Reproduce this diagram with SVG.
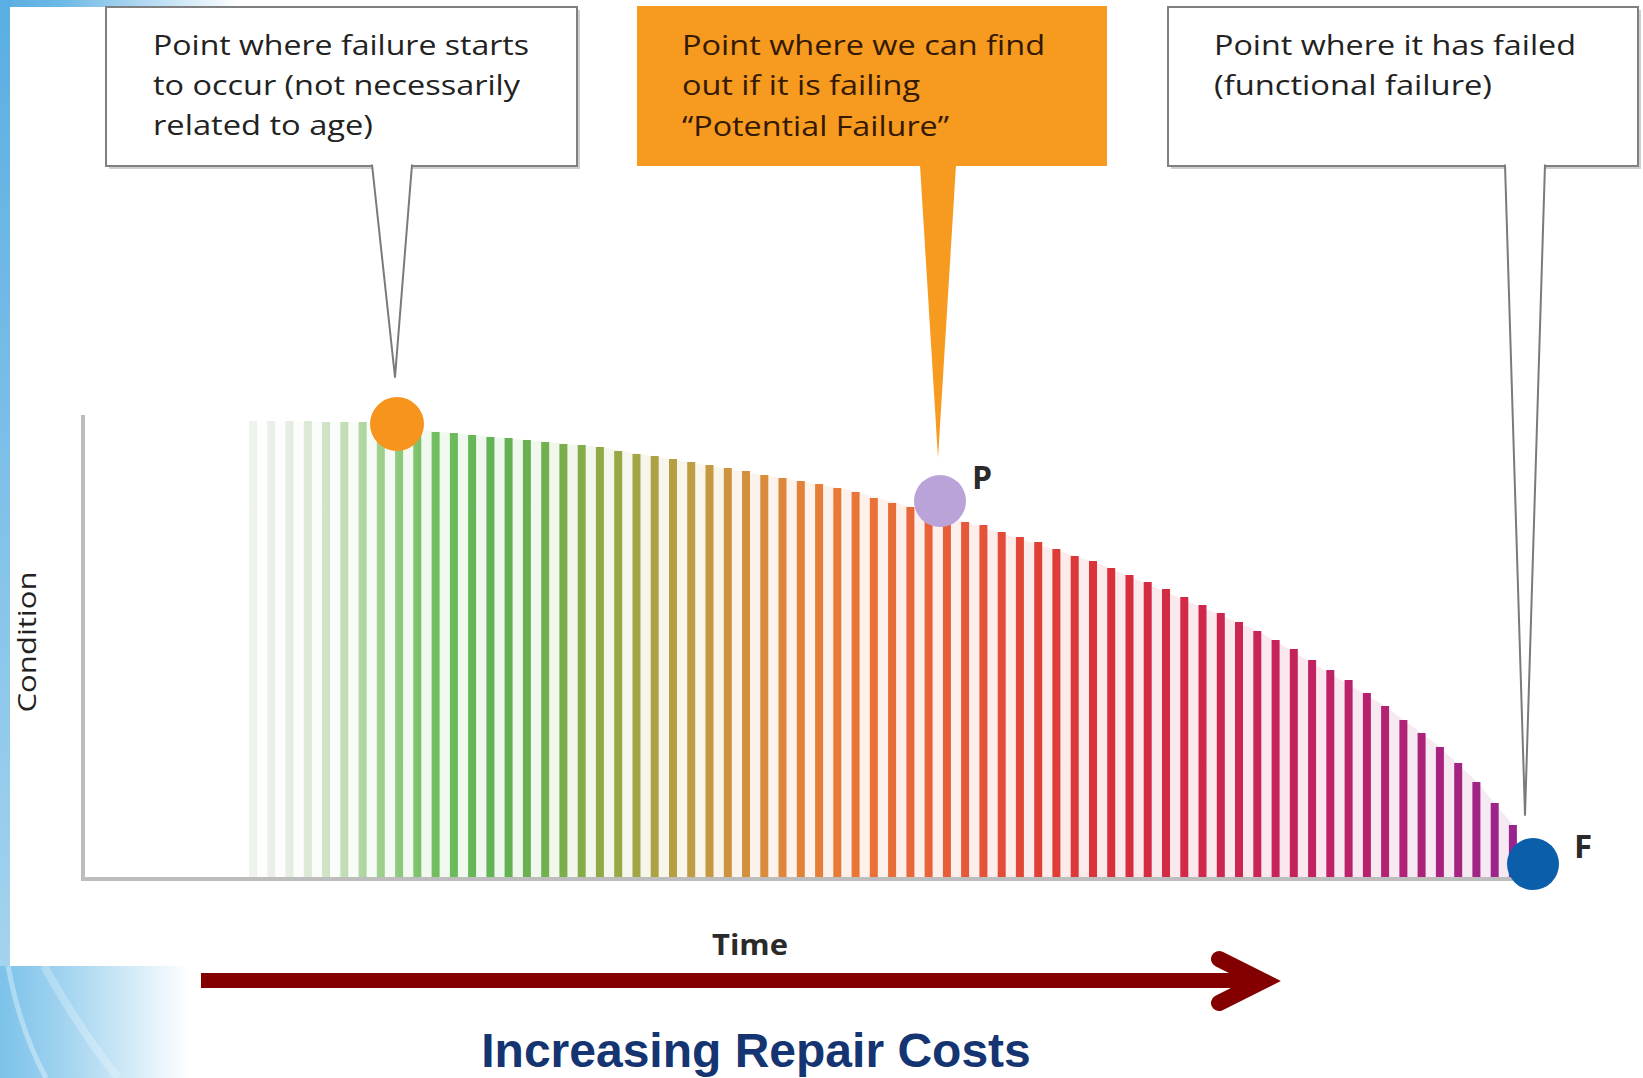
<svg xmlns="http://www.w3.org/2000/svg" width="1643" height="1078" viewBox="0 0 1643 1078">
<style>
.box{fill:#ffffff;stroke:#808080;stroke-width:2}
.shadow{fill:#cfcfcf}
.tail{fill:#ffffff;stroke:#7a7a7a;stroke-width:2;stroke-linejoin:round}
.ctext{font-family:"Open Sans","Liberation Sans",sans-serif;font-size:28px;fill:#222222}
.otext{font-family:"Open Sans","Liberation Sans",sans-serif;font-size:28px;fill:#341903}
.axis{stroke:#bdbdbd;stroke-width:4;fill:none}
.lbl{font-family:"Open Sans","Liberation Sans",sans-serif;font-weight:bold;fill:#2a2a2a}
.bar{fill:url(#barGrad)}
</style>
<defs>
<linearGradient id="barGrad" gradientUnits="userSpaceOnUse" x1="249" y1="0" x2="1517" y2="0">
<stop offset="0" stop-color="#f0f4ee"/>
<stop offset="0.04" stop-color="#e2ebde"/>
<stop offset="0.072" stop-color="#c6dfba"/>
<stop offset="0.103" stop-color="#9fd08e"/>
<stop offset="0.143" stop-color="#72be60"/>
<stop offset="0.198" stop-color="#5fb254"/>
<stop offset="0.245" stop-color="#79ae4c"/>
<stop offset="0.293" stop-color="#9aa844"/>
<stop offset="0.348" stop-color="#bf9c42"/>
<stop offset="0.403" stop-color="#d98c3c"/>
<stop offset="0.466" stop-color="#e97a36"/>
<stop offset="0.545" stop-color="#e8603a"/>
<stop offset="0.624" stop-color="#df4036"/>
<stop offset="0.687" stop-color="#d82e3c"/>
<stop offset="0.75" stop-color="#d0284a"/>
<stop offset="0.829" stop-color="#c4225e"/>
<stop offset="0.908" stop-color="#b02276"/>
<stop offset="1" stop-color="#98248e"/>
</linearGradient>
<linearGradient id="leftStrip" x1="0" y1="0" x2="0" y2="1">
<stop offset="0" stop-color="#5aaee2"/>
<stop offset="1" stop-color="#a4d3ef"/>
</linearGradient>
<linearGradient id="topStrip" gradientUnits="userSpaceOnUse" x1="0" y1="0" x2="240" y2="0">
<stop offset="0" stop-color="#5aaee2"/>
<stop offset="0.25" stop-color="#6cb8e6"/>
<stop offset="1" stop-color="#ffffff"/>
</linearGradient>
<linearGradient id="bottomSwoosh" gradientUnits="userSpaceOnUse" x1="0" y1="0" x2="190" y2="0">
<stop offset="0" stop-color="#7cc2ea"/>
<stop offset="0.35" stop-color="#a3d4f0"/>
<stop offset="1" stop-color="#ffffff"/>
</linearGradient>
</defs>

<g id="background">
<rect x="0" y="0" width="1643" height="1078" fill="#ffffff"/>
<rect x="0" y="0" width="1643" height="7" fill="url(#topStrip)"/>
<rect x="0" y="0" width="10" height="966" fill="url(#leftStrip)"/>
<rect x="0" y="966" width="240" height="112" fill="url(#bottomSwoosh)"/>
<path d="M8,966 Q20,1030 46,1078" fill="none" stroke="#ffffff" stroke-opacity="0.35" stroke-width="5"/>
<path d="M44,966 Q80,1030 118,1078" fill="none" stroke="#ffffff" stroke-opacity="0.25" stroke-width="8"/>
</g>

<g id="bars">
<path d="M249,877 L249,421 L380,423 L430,431 L600,447 L850,490 L965,522 L1100,564 L1258,631 L1385,706 L1440,747 L1477,782 L1513,825 L1517,877 Z" fill="url(#barGrad)" opacity="0.1"/>
<rect class="bar" x="249.0" y="421" width="8" height="456"/>
<rect class="bar" x="267.3" y="421" width="8" height="456"/>
<rect class="bar" x="285.5" y="421" width="8" height="456"/>
<rect class="bar" x="303.8" y="421" width="8" height="456"/>
<rect class="bar" x="322.0" y="422" width="8" height="455"/>
<rect class="bar" x="340.3" y="422" width="8" height="455"/>
<rect class="bar" x="358.6" y="422" width="8" height="455"/>
<rect class="bar" x="376.8" y="423" width="8" height="454"/>
<rect class="bar" x="395.1" y="426" width="8" height="451"/>
<rect class="bar" x="413.3" y="429" width="8" height="448"/>
<rect class="bar" x="431.6" y="432" width="8" height="445"/>
<rect class="bar" x="449.9" y="433" width="8" height="444"/>
<rect class="bar" x="468.1" y="435" width="8" height="442"/>
<rect class="bar" x="486.4" y="437" width="8" height="440"/>
<rect class="bar" x="504.6" y="438" width="8" height="439"/>
<rect class="bar" x="522.9" y="440" width="8" height="437"/>
<rect class="bar" x="541.2" y="442" width="8" height="435"/>
<rect class="bar" x="559.4" y="444" width="8" height="433"/>
<rect class="bar" x="577.7" y="445" width="8" height="432"/>
<rect class="bar" x="595.9" y="447" width="8" height="430"/>
<rect class="bar" x="614.2" y="451" width="8" height="426"/>
<rect class="bar" x="632.5" y="454" width="8" height="423"/>
<rect class="bar" x="650.7" y="456" width="8" height="421"/>
<rect class="bar" x="669.0" y="459" width="8" height="418"/>
<rect class="bar" x="687.2" y="462" width="8" height="415"/>
<rect class="bar" x="705.5" y="465" width="8" height="412"/>
<rect class="bar" x="723.8" y="468" width="8" height="409"/>
<rect class="bar" x="742.0" y="471" width="8" height="406"/>
<rect class="bar" x="760.3" y="475" width="8" height="402"/>
<rect class="bar" x="778.5" y="478" width="8" height="399"/>
<rect class="bar" x="796.8" y="481" width="8" height="396"/>
<rect class="bar" x="815.1" y="484" width="8" height="393"/>
<rect class="bar" x="833.3" y="488" width="8" height="389"/>
<rect class="bar" x="851.6" y="492" width="8" height="385"/>
<rect class="bar" x="869.8" y="498" width="8" height="379"/>
<rect class="bar" x="888.1" y="503" width="8" height="374"/>
<rect class="bar" x="906.4" y="507" width="8" height="370"/>
<rect class="bar" x="924.6" y="512" width="8" height="365"/>
<rect class="bar" x="942.9" y="517" width="8" height="360"/>
<rect class="bar" x="961.1" y="522" width="8" height="355"/>
<rect class="bar" x="979.4" y="525" width="8" height="352"/>
<rect class="bar" x="997.7" y="532" width="8" height="345"/>
<rect class="bar" x="1015.9" y="537" width="8" height="340"/>
<rect class="bar" x="1034.2" y="542" width="8" height="335"/>
<rect class="bar" x="1052.4" y="549" width="8" height="328"/>
<rect class="bar" x="1070.7" y="556" width="8" height="321"/>
<rect class="bar" x="1089.0" y="561" width="8" height="316"/>
<rect class="bar" x="1107.2" y="568" width="8" height="309"/>
<rect class="bar" x="1125.5" y="575" width="8" height="302"/>
<rect class="bar" x="1143.7" y="582" width="8" height="295"/>
<rect class="bar" x="1162.0" y="589" width="8" height="288"/>
<rect class="bar" x="1180.3" y="597" width="8" height="280"/>
<rect class="bar" x="1198.5" y="605" width="8" height="272"/>
<rect class="bar" x="1216.8" y="613" width="8" height="264"/>
<rect class="bar" x="1235.0" y="622" width="8" height="255"/>
<rect class="bar" x="1253.3" y="631" width="8" height="246"/>
<rect class="bar" x="1271.6" y="640" width="8" height="237"/>
<rect class="bar" x="1289.8" y="649" width="8" height="228"/>
<rect class="bar" x="1308.1" y="660" width="8" height="217"/>
<rect class="bar" x="1326.3" y="670" width="8" height="207"/>
<rect class="bar" x="1344.6" y="680" width="8" height="197"/>
<rect class="bar" x="1362.9" y="693" width="8" height="184"/>
<rect class="bar" x="1381.1" y="706" width="8" height="171"/>
<rect class="bar" x="1399.4" y="720" width="8" height="157"/>
<rect class="bar" x="1417.6" y="733" width="8" height="144"/>
<rect class="bar" x="1435.9" y="747" width="8" height="130"/>
<rect class="bar" x="1454.2" y="763" width="8" height="114"/>
<rect class="bar" x="1472.4" y="782" width="8" height="95"/>
<rect class="bar" x="1490.7" y="803" width="8" height="74"/>
<rect class="bar" x="1508.9" y="825" width="8" height="52"/>
</g>

<g id="axes">
<path class="axis" d="M83,415 V879 H1520"/>
</g>

<g id="callout-failure-start">
<rect class="shadow" x="109" y="10" width="471" height="159"/>
<rect class="box" x="106" y="7" width="471" height="159"/>
<text class="ctext" x="153" y="55" textLength="376" lengthAdjust="spacingAndGlyphs">Point where failure starts</text>
<text class="ctext" x="153" y="95" textLength="367" lengthAdjust="spacingAndGlyphs">to occur (not necessarily</text>
<text class="ctext" x="153" y="135" textLength="220" lengthAdjust="spacingAndGlyphs">related to age)</text>
</g>

<g id="callout-potential-failure">
<rect x="637" y="6" width="470" height="160" fill="#f69a20"/>
<text class="otext" x="682" y="55" textLength="363" lengthAdjust="spacingAndGlyphs">Point where we can find</text>
<text class="otext" x="682" y="95" textLength="238" lengthAdjust="spacingAndGlyphs">out if it is failing</text>
<text class="otext" x="682" y="136" textLength="267" lengthAdjust="spacingAndGlyphs">“Potential Failure”</text>
</g>

<g id="callout-functional-failure">
<rect class="shadow" x="1171" y="10" width="470" height="159"/>
<rect class="box" x="1168" y="7" width="470" height="159"/>
<text class="ctext" x="1214" y="55" textLength="362" lengthAdjust="spacingAndGlyphs">Point where it has failed</text>
<text class="ctext" x="1214" y="95" textLength="278" lengthAdjust="spacingAndGlyphs">(functional failure)</text>
</g>

<g id="connectors">
<path class="tail" d="M372,164.5 L395,377 L412,164.5"/>
<path d="M920,165 L938,458 L956,165 Z" fill="#f69a20"/>
<path class="tail" d="M1505,164.5 L1525,815 L1545,164.5"/>
</g>

<g id="point-start">
<circle cx="397" cy="424" r="27" fill="#f7941d"/>
</g>
<g id="point-P">
<circle cx="940" cy="501" r="26" fill="#b9a3d9"/>
<text class="lbl" x="972" y="489" font-size="32">P</text>
</g>
<g id="point-F">
<circle cx="1533" cy="864" r="26" fill="#0b5eaa"/>
<text class="lbl" x="1574" y="858" font-size="33">F</text>
</g>

<g id="axis-labels">
<text class="lbl" x="750" y="955" font-size="28" text-anchor="middle" textLength="76" lengthAdjust="spacingAndGlyphs">Time</text>
<text transform="translate(36,642) rotate(-90)" font-family="Open Sans, Liberation Sans, sans-serif" font-size="25" fill="#222" text-anchor="middle" textLength="141" lengthAdjust="spacingAndGlyphs">Condition</text>
</g>

<g id="cost-arrow">
<line x1="201" y1="980.5" x2="1262" y2="980.5" stroke="#840000" stroke-width="15"/>
<polyline points="1219,959 1263,981 1219,1003" fill="none" stroke="#840000" stroke-width="16" stroke-linecap="round" stroke-linejoin="miter" stroke-miterlimit="4"/>
<text x="756" y="1067" font-family="Liberation Sans, Arial, sans-serif" font-weight="bold" font-size="48" fill="#143472" text-anchor="middle">Increasing Repair Costs</text>
</g>
</svg>
